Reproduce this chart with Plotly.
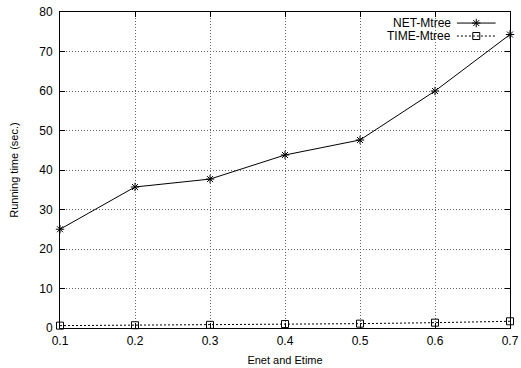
import plotly.graph_objects as go

x_vals = [0.1, 0.2, 0.3, 0.4, 0.5, 0.6, 0.7]
net_mtree = [25.0, 35.7, 37.7, 43.8, 47.6, 60.0, 74.3]
time_mtree = [0.6, 0.7, 0.8, 1.0, 1.1, 1.35, 1.7]
series_names = ["NET-Mtree", "TIME-Mtree"]
x_ticks = [0.1, 0.2, 0.3, 0.4, 0.5, 0.6, 0.7]
y_ticks = [0, 10, 20, 30, 40, 50, 60, 70, 80]

FONT = "Liberation Sans, Arial, Helvetica, sans-serif"

fig = go.Figure()
fig.add_trace(go.Scatter(
    x=x_vals, y=net_mtree, mode="lines+markers", name=series_names[0],
    line=dict(color="black", width=1, dash="solid"),
    marker=dict(symbol="asterisk-open", size=7, color="black", line=dict(width=1, color="black")),
    showlegend=False, cliponaxis=False))
fig.add_trace(go.Scatter(
    x=x_vals, y=time_mtree, mode="lines+markers", name=series_names[1],
    line=dict(color="black", width=1, dash="2px,2px"),
    marker=dict(symbol="square-open", size=7, color="black", line=dict(width=1, color="black")),
    showlegend=False, cliponaxis=False))

# gnuplot-style legend (key) on an overlay axis in [0,1]
legend_y = [0.965, 0.924]
for i, (nm, dash, sym) in enumerate([
        (series_names[0], "solid", "asterisk-open"),
        (series_names[1], "2px,2px", "square-open")]):
    fig.add_trace(go.Scatter(
        x=[0.882, 0.968], y=[legend_y[i]] * 2, mode="lines",
        line=dict(color="black", width=1, dash=dash),
        xaxis="x2", yaxis="y2", showlegend=False, hoverinfo="skip"))
    fig.add_trace(go.Scatter(
        x=[0.925], y=[legend_y[i]], mode="markers",
        marker=dict(symbol=sym, size=7, color="black", line=dict(width=1, color="black")),
        xaxis="x2", yaxis="y2", showlegend=False, hoverinfo="skip"))
    fig.add_annotation(x=0.871, y=legend_y[i], xref="x2", yref="y2", text=nm,
                       showarrow=False, xanchor="right", yanchor="middle",
                       height=12, valign="middle", borderpad=0,
                       font=dict(family=FONT, size=12, color="black"))

axis_common = dict(
    showline=True, linecolor="black", linewidth=1, mirror="ticks",
    ticks="inside", ticklen=5, tickcolor="black", tickwidth=1,
    showgrid=True, gridcolor="#666666", griddash="1px,2px", gridwidth=1,
    zeroline=False, automargin=False,
    tickfont=dict(family=FONT, size=12, color="black"),
)

fig.update_layout(
    width=521, height=368,
    margin=dict(l=60, r=11, t=12, b=40),
    paper_bgcolor="white", plot_bgcolor="white",
    font=dict(family=FONT, size=12, color="black"),
    xaxis=dict(range=[0.1, 0.7], tickvals=x_ticks, ticktext=[str(v) for v in x_ticks],
               ticklabelstandoff=2,
               title=dict(text="Enet and Etime", font=dict(family=FONT, size=11), standoff=8),
               **axis_common),
    yaxis=dict(range=[0, 80], tickvals=y_ticks, ticklabelstandoff=4,
               title=dict(text="Running time (sec.)", font=dict(family=FONT, size=11), standoff=18),
               **axis_common),
    xaxis2=dict(range=[0, 1], overlaying="x", visible=False, fixedrange=True),
    yaxis2=dict(range=[0, 1], overlaying="y", visible=False, fixedrange=True),
)

fig.write_html("out.html", config={"displayModeBar": False},
               post_script="document.body.style.margin='0';document.body.style.overflow='hidden';")
